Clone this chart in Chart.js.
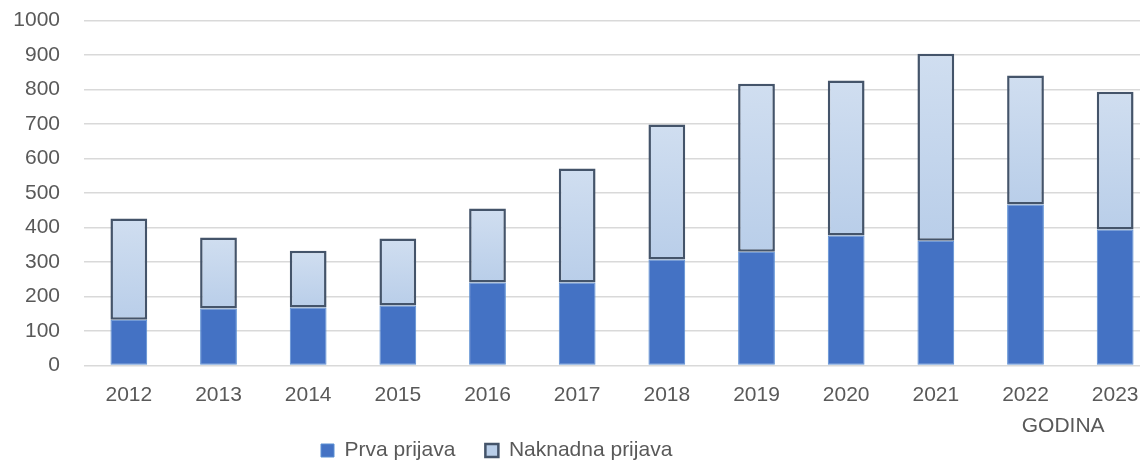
<!DOCTYPE html>
<html>
<head>
<meta charset="utf-8">
<script src="https://cdn.jsdelivr.net/npm/chart.js@4"></script>
<style>
    html, body { margin: 0; padding: 0; background: #fff; overflow: hidden; }
    .chart-box { position: relative; width: 1140px; height: 462px; overflow: hidden; }
    .chart-box canvas { position: absolute; left: 0; top: -16px; }
</style>
</head>
<body>
<div class="chart-box">
    <canvas id="chart" width="1165" height="487"></canvas>
</div>
<script>
const years = ['2012', '2013', '2014', '2015', '2016', '2017', '2018', '2019', '2020', '2021', '2022', '2023'];
const prvaPrijava = [133, 165, 168, 174, 241, 241, 307, 330, 377, 362, 467, 394];
const naknadnaPrijava = [293, 206, 165, 194, 214, 330, 392, 487, 449, 542, 374, 400];
const yTicks = [0, 100, 200, 300, 400, 500, 600, 700, 800, 900, 1000];
const axisTitle = 'GODINA';

const textColor = '#595959';
const fontFamily = '"Liberation Sans", Arial, sans-serif';

const naknadnaFill = (context) => {
    const chart = context.chart;
    const yScale = chart.scales.y;
    if (!chart.chartArea || !yScale || context.type !== 'data') {
        return '#c4d6ec';
    }
    const i = context.dataIndex;
    const top = yScale.getPixelForValue(prvaPrijava[i] + naknadnaPrijava[i]);
    const bottom = yScale.getPixelForValue(prvaPrijava[i]);
    const gradient = chart.ctx.createLinearGradient(0, top, 0, bottom);
    gradient.addColorStop(0, '#d0def0');
    gradient.addColorStop(1, '#b9cee9');
    return gradient;
};

// moves the legend left like in the original, draws the axis title under the last year
const layoutTweaks = {
    id: 'layoutTweaks',
    afterLayout(chart) {
        const legend = chart.legend;
        const shift = 291 - legend.left;
        legend.left += shift;
        legend.right += shift;
    },
    afterDraw(chart) {
        const xScale = chart.scales.x;
        const ctx = chart.ctx;
        ctx.save();
        ctx.font = '21px ' + fontFamily;
        ctx.fillStyle = textColor;
        ctx.textAlign = 'center';
        ctx.textBaseline = 'middle';
        ctx.fillText(axisTitle, xScale.getPixelForValue(years.length - 1) - 52, xScale.top + 60.5);
        ctx.restore();
    }
};

new Chart(document.getElementById('chart').getContext('2d'), {
    type: 'bar',
    data: {
        labels: years,
        datasets: [
            {
                label: 'Prva prijava',
                data: prvaPrijava,
                backgroundColor: '#4472c4',
                borderColor: '#5b8fd3',
                borderWidth: 1,
                borderSkipped: false,
                barPercentage: 0.41,
                categoryPercentage: 1
            },
            {
                label: 'Naknadna prijava',
                data: naknadnaPrijava,
                backgroundColor: naknadnaFill,
                borderColor: '#44546a',
                borderWidth: 2.5,
                borderSkipped: false,
                barPercentage: 0.41,
                categoryPercentage: 1
            }
        ]
    },
    options: {
        responsive: false,
        animation: false,
        layout: {
            padding: { top: 0, left: 0, right: 5, bottom: 0 }
        },
        plugins: {
            tooltip: { enabled: false },
            legend: {
                position: 'bottom',
                align: 'start',
                labels: {
                    boxWidth: 13,
                    boxHeight: 13,
                    padding: 30,
                    color: textColor,
                    font: { family: fontFamily, size: 21 }
                }
            }
        },
        scales: {
            x: {
                stacked: true,
                grid: { display: false },
                border: { display: false },
                ticks: {
                    color: textColor,
                    padding: 9.5,
                    font: { family: fontFamily, size: 21 }
                },
                afterFit: (scale) => { scale.height = 44.5; }
            },
            y: {
                stacked: true,
                min: 0,
                max: 1000,
                afterBuildTicks: (scale) => { scale.ticks = yTicks.map(v => ({ value: v })); },
                afterFit: (scale) => { scale.width = 84; },
                grid: { color: '#d9d9d9', lineWidth: 1.5, drawTicks: false },
                border: { display: false },
                ticks: {
                    color: textColor,
                    padding: 24,
                    font: { family: fontFamily, size: 21 },
                    callback: (value) => String(value)
                }
            }
        }
    },
    plugins: [layoutTweaks]
});
</script>
</body>
</html>
